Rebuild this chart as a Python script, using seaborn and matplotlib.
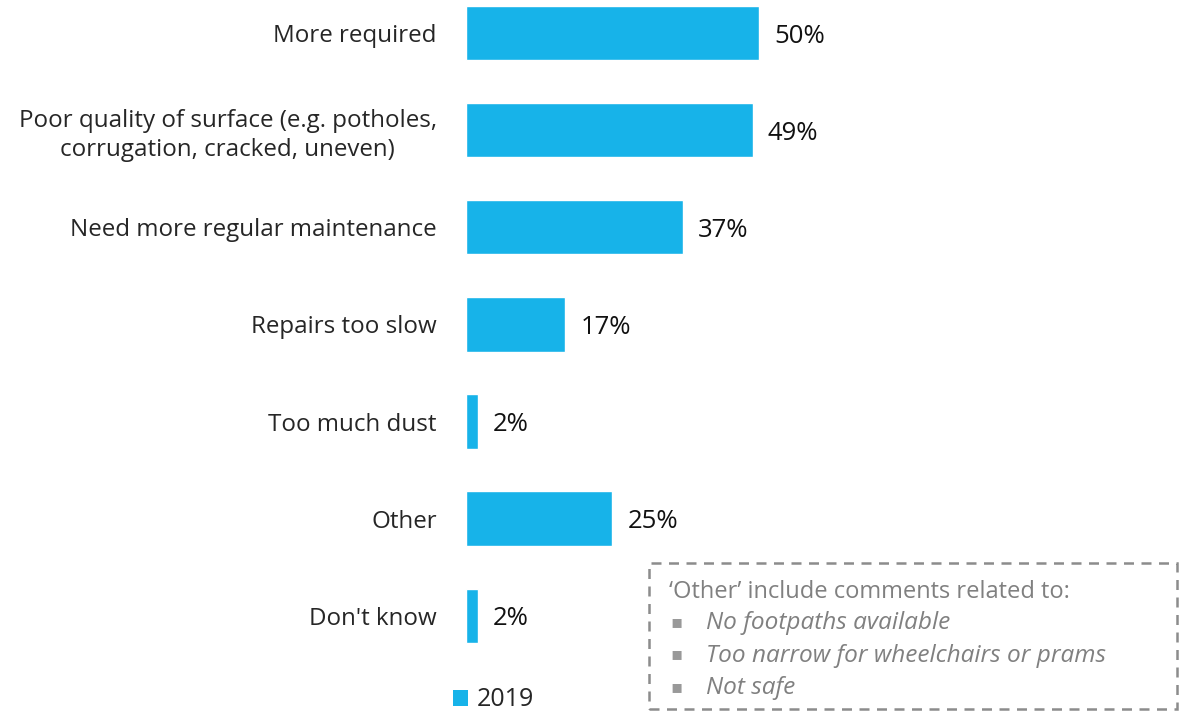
import matplotlib
matplotlib.use("Agg")
import matplotlib.pyplot as plt
import seaborn as sns
import pandas as pd
from matplotlib.patches import Rectangle, Patch

categories = ["More required",
              "Poor quality of surface (e.g. potholes,\ncorrugation, cracked, uneven)",
              "Need more regular maintenance",
              "Repairs too slow",
              "Too much dust",
              "Other",
              "Don't know"]
values_2019 = [50, 49, 37, 17, 2, 25, 2]
series_name = "2019"
note_title = "\u2018Other\u2019 include comments related to:"
note_items = ["No footpaths available", "Too narrow for wheelchairs or prams", "Not safe"]

sns.set_theme(style="white")
plt.rcParams['font.family'] = ['Open Sans', 'DejaVu Sans']

bar_color = "#17B3E9"
df = pd.DataFrame({"category": categories, "value": values_2019})

fig = plt.figure(figsize=(11.8, 7.11), dpi=100)
ax = fig.add_axes([466/1180, 0, 714/1180, 1])
sns.barplot(data=df, y="category", x="value", color=bar_color, width=0.56,
            saturation=1, ax=ax, orient="h")
ax.set_xlim(0, 122)
ax.set_ylim(6.98, -0.34)
ax.set_xlabel("")
ax.set_ylabel("")
ax.set_xticks([])
for s in ax.spines.values():
    s.set_visible(False)
ax.tick_params(axis="y", length=0, pad=21, labelsize=17.4, labelcolor="#262626")
for lab in ax.get_yticklabels():
    lab.set_horizontalalignment("right")
    lab.set_multialignment("center")
    lab.set_linespacing(1.25)

for i, v in enumerate(values_2019):
    ax.text(v + 2.6, i, f"{v}%", va="center_baseline", ha="left", fontsize=18.5, color="#111111")

# legend
leg = fig.legend(handles=[Patch(facecolor=bar_color, edgecolor="none", label=series_name)],
                 loc="center", bbox_to_anchor=(494/1180, 1 - 700/711), frameon=False,
                 fontsize=18, handlelength=0.6, handleheight=0.6, handletextpad=0.35,
                 borderaxespad=0, borderpad=0)
for t in leg.get_texts():
    t.set_color("#262626")

# note box
x0, y0, x1, y1 = 649, 563, 1177, 709
fig.patches.append(Rectangle((x0/1180, 1 - y1/711), (x1 - x0)/1180, (y1 - y0)/711,
                             transform=fig.transFigure, fill=False, edgecolor="#8c8c8c",
                             linestyle=(0, (4, 3)), linewidth=1.8))
gray = "#808080"
fig.text(669/1180, 1 - 589/711, note_title, fontsize=17.0, color=gray,
         va="center_baseline", ha="left")
for k, item in enumerate(note_items):
    yy = 1 - (620 + 32.5*k)/711
    fig.text(670/1180, yy, "\u25aa", fontsize=13, color="#999999", va="center_baseline", ha="left")
    fig.text(706/1180, yy, item, fontsize=17.6, color=gray, va="center_baseline",
             ha="left", style="italic")

fig.savefig("out.png", dpi=100)
